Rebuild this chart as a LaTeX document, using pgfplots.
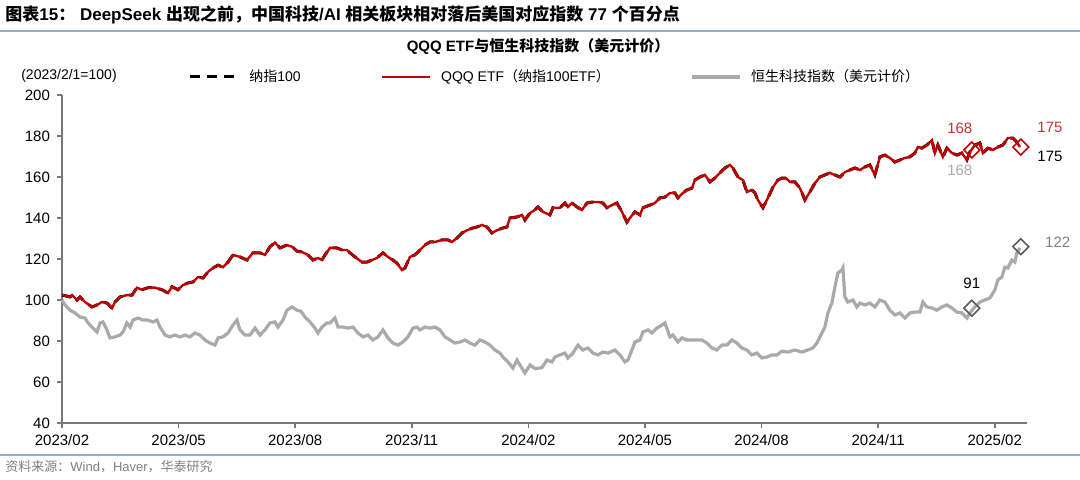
\documentclass[border=0pt]{standalone}
\usepackage{pgfplots}
\pgfplotsset{compat=1.18}
\usepackage{pgfplotstable}
\usepackage{fontspec}
\setmainfont{Liberation Sans}
\newfontfamily\cjk{Noto Sans CJK SC}
\definecolor{qred}{RGB}{192,0,0}
\definecolor{lred}{RGB}{200,50,50}
\definecolor{hgray}{RGB}{170,170,170}
\definecolor{dgray}{RGB}{90,90,90}
\definecolor{lblue}{RGB}{150,175,205}
\definecolor{axgray}{RGB}{120,120,120}

\pgfplotstableread{
px v
62 102.4
66 102
70 101.5
72 102.4
77 100
80 101.5
85 99
92 96.6
97 97.6
102 99
107 98.5
112 96
115 99
120 101.5
127 102.4
132 102.4
137 106
142 105
148 106
155 106
162 105
168 103.4
172 106.5
178 105
183 107.3
188 108.3
193 108.8
198 111.2
203 110.7
208 113.7
213 115.6
218 117
223 116
228 118.5
233 122
240 121
247 119.5
253 123
260 123
265 122
270 126
275 128
280 125.4
287 126.8
292 126
297 123.8
302 123.4
308 122
313 119.5
318 120.5
322 119.5
325 122
330 125.4
337 125.4
342 124.4
347 124.4
350 123
355 121
362 118.5
367 118.5
372 119.5
377 120.5
383 123
388 121
393 119.5
397 118
402 114.6
405 115.6
410 121
415 122
420 124.4
425 126.8
430 128.3
435 128.3
442 129.3
448 129.3
452 128.3
457 130.2
462 132.7
467 134
472 135
477 135.6
482 136.6
487 135.6
492 132.7
497 134
502 135
507 135.6
510 140
517 140.5
522 141.5
525 139
530 142.4
535 144
538 145.4
543 143
550 141.5
553 145
560 145
565 147.3
568 145.4
572 147.3
577 145.4
582 143.9
587 147.3
592 147.8
598 147.8
603 147.3
607 145
612 146.3
617 147.3
622 143
627 138
630 140
635 143
640 141.5
643 145
650 146.3
655 147.3
660 149.8
665 150.2
670 152.2
675 152.2
678 149.8
683 152.2
687 153.7
692 154.6
695 158.5
700 160
705 161
710 157.6
715 159.5
720 162
725 164.4
730 165.9
733 164.4
738 160
743 158.5
747 152.7
752 153.7
755 152.2
758 148.8
763 145
768 149.8
773 155
778 158.5
782 159.5
786 159.5
790 157.6
795 157.6
800 154.6
805 148.8
810 152.7
815 157
820 160
825 161
830 162
835 161
840 160
845 162.4
850 163.4
855 164.4
860 163.4
865 164.9
870 165.9
875 161
880 169.8
885 170.7
890 169.3
895 167.3
900 168.3
905 169.3
910 169.8
915 171.7
918 174.6
922 174.1
927 175.6
932 178
935 171.7
938 175.6
943 169.8
947 174.1
952 171.7
957 170.7
962 171.7
967 168.3
970 172.2
975 175.6
980 176.6
983 171.7
988 174.1
993 173.2
998 174.6
1003 175.6
1008 179
1013 179
1017 177
1020 174.6
}\qqq

\pgfplotstableread{
px v
62 100
65 97.6
70 95
75 93.7
80 91.7
85 91.2
88 88.8
93 86.3
97 84.4
100 88.8
103 89.3
107 85.4
110 81.5
115 82
120 82.9
123 84.4
127 88.8
130 86.8
133 90.2
138 91.2
143 90.2
148 90.2
153 89.3
157 90.2
160 86.8
165 82.9
170 82
175 82.9
180 82
185 82.9
190 82
195 83.9
200 82.9
205 80.5
210 79
215 78
218 81.5
223 82
228 83.9
233 87.8
237 90.2
240 85.4
245 82.9
250 82.9
255 86.3
260 82.9
265 85.4
270 88.8
275 89.3
278 86.8
283 90.2
287 95
292 96.6
297 95
301 94.5
305 91.7
310 89.3
315 86.3
318 83.9
322 86.8
327 88.8
330 88.8
335 91.2
338 86.8
343 86.8
348 86.3
353 86.8
358 83.9
363 82
368 82.9
373 80.5
378 82
383 85.4
388 81.5
393 79
398 78
403 79.5
408 82
413 86.3
417 86.8
420 85.4
425 86.8
430 86.3
435 86.8
440 85.4
445 82
450 80.5
455 79
460 79.5
465 80.5
470 79
475 78
480 80.5
485 79.5
490 78
495 75.6
500 74.1
503 72.2
508 69.8
513 66.8
517 70.7
520 68.3
525 64.4
530 68.3
535 66.5
542 67
547 70.7
552 69.8
555 72.2
560 73.2
565 74.1
568 71.7
573 74.1
578 78
583 75.6
588 76.6
593 74.1
598 73.2
603 74.6
608 74.1
615 75.6
620 73.2
625 69.8
628 70.7
632 75.6
635 79.5
640 80.5
643 84.4
648 85.4
652 83.9
657 86.3
662 87.8
665 88.8
670 82
673 82.9
678 79.5
682 81.5
687 80.5
692 80.5
697 80.5
702 80.5
707 79
712 76.6
717 75.6
722 78
727 78
732 80.5
737 79
742 76.6
747 75.6
752 73.2
757 74.1
762 71.7
767 72.2
772 73.2
777 73.2
782 75
788 74.6
795 75.6
802 74.6
808 75.6
813 76.6
817 79
822 83.9
825 86.8
828 93.7
832 98.5
835 106.3
838 113.2
842 114.6
843 115.6
845 101.5
848 99
853 100
857 96.6
860 98.5
865 97.6
870 98.5
875 96.6
880 100
885 99
890 95
895 92.7
900 93.7
905 91.2
910 93.7
915 94.1
920 94.1
923 99
927 96.6
932 96.1
937 95
942 96.6
947 97.6
952 96.1
957 94.1
962 93.7
967 91.2
970 93.7
975 96.6
980 99
985 100
990 101
995 104.9
998 109.8
1002 111.2
1005 116
1008 115.6
1012 119.5
1015 118.5
1017 123
1020 125.4
}\hst

\begin{document}
\begin{tikzpicture}[x=1pt,y=1pt]
\path[use as bounding box] (0,0) rectangle (540,240);
% title and frame lines
\node[anchor=west,inner sep=0pt,font=\bfseries\fontsize{8.5}{10}\selectfont] at (2.5,232.5)
  {{\cjk 图表}15{\cjk ：} DeepSeek {\cjk 出现之前，中国科技}/AI {\cjk 相关板块相对落后美国对应指数} 77 {\cjk 个百分点}};
\draw[lblue,line width=1pt] (0,224.5) -- (540,224.5);
\node[inner sep=0pt,font=\bfseries\fontsize{7.5}{9}\selectfont] at (269,216.5)
  {QQQ ETF{\cjk 与恒生科技指数（美元计价）}};
\node[inner sep=0pt,font=\fontsize{7}{8}\selectfont] at (34.5,202) {(2023/2/1=100)};
\draw[lblue,line width=1pt] (0,12.5) -- (540,12.5);
\node[anchor=west,inner sep=0pt,text=gray,font=\fontsize{6.5}{8}\selectfont] at (2.5,6.5)
  {{\cjk 资料来源：}Wind{\cjk ，}Haver{\cjk ，华泰研究}};
\begin{axis}[
  at={(31pt,28.5pt)}, anchor=south west,
  scale only axis, width=482.5pt, height=164pt,
  xmin=0, xmax=24.83, ymin=40, ymax=200,
  axis x line*=bottom, axis y line*=left,
  axis line style={axgray,line width=0.9pt,-},
  xtick={0,3,...,24},
  xticklabels={2023/02,2023/05,2023/08,2023/11,2024/02,2024/05,2024/08,2024/11,2025/02},
  ytick={40,60,...,200},
  tick style={axgray,line width=0.8pt},
  tick align=outside, major tick length=2.5pt,
  tick label style={font=\fontsize{7.5}{9}\selectfont},
  /pgf/number format/assume math mode=true,
  clip=false,
  legend columns=3,
  legend style={at={(rel axis cs:0.1306,1.055)}, anchor=west, draw=none, fill=none,
    inner sep=0pt, font=\fontsize{7}{8}\selectfont,
    /tikz/every even column/.append style={column sep=38pt},
    /tikz/every odd column/.append style={column sep=3pt}},
  legend image code/.code={\draw[#1] (0pt,0pt) -- (24pt,0pt);},
]
\addplot[black, line width=1.5pt, dash pattern=on 5pt off 3.5pt] table[x expr=(\thisrow{px}-62)/38.87, y=v]{\qqq};
\addlegendentry{{\cjk 纳指}100}
\addplot[qred, line width=1.2pt] table[x expr=(\thisrow{px}-62)/38.87, y=v]{\qqq};
\addlegendentry{QQQ ETF{\cjk （纳指}100ETF{\cjk ）}}
\addplot[hgray, line width=1.6pt] table[x expr=(\thisrow{px}-62)/38.87, y=v]{\hst};
\addlegendentry{{\cjk 恒生科技指数（美元计价）}}
\addplot[only marks, mark=square, mark size=2.8pt, mark options={rotate=45, fill=white, draw=qred, line width=0.8pt}, forget plot] coordinates {(23.41,173.2) (24.67,174.6)};
\addplot[only marks, mark=square, mark size=2.8pt, mark options={rotate=45, fill=white, draw=dgray, line width=0.8pt}, forget plot] coordinates {(23.41,96) (24.67,126)};
\node[text=lred,font=\fontsize{7.5}{9}\selectfont] at (axis cs:23.10,183.9) {168};
\node[text=hgray,font=\fontsize{7.5}{9}\selectfont] at (axis cs:23.10,163.4) {168};
\node[text=lred,font=\fontsize{7.5}{9}\selectfont] at (axis cs:25.42,184.4) {175};
\node[text=black,font=\fontsize{7.5}{9}\selectfont] at (axis cs:25.42,169.8) {175};
\node[text=black,font=\fontsize{7.5}{9}\selectfont] at (axis cs:23.41,108.3) {91};
\node[text=gray,font=\fontsize{7.5}{9}\selectfont] at (axis cs:25.62,128.3) {122};
\end{axis}
\end{tikzpicture}
\end{document}
